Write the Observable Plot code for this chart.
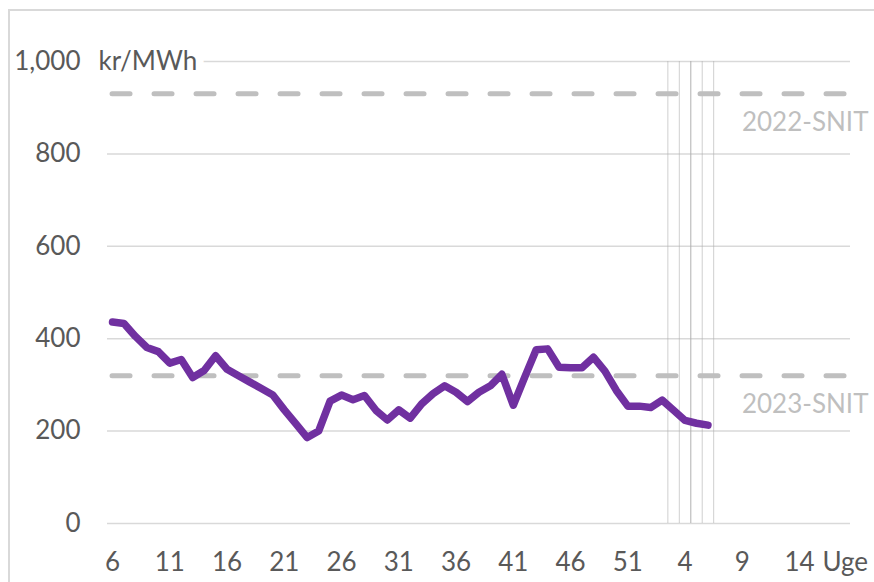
<!DOCTYPE html>
<html><head><meta charset="utf-8">
<script src="https://cdn.jsdelivr.net/npm/d3@7"></script>
<script src="https://cdn.jsdelivr.net/npm/@observablehq/plot@0.6"></script>
<style>
html,body{margin:0;padding:0;background:#fff;}
#frame{position:absolute;left:8px;top:9px;width:866px;height:573px;border-left:2px solid #d9d9d9;border-top:2px solid #d9d9d9;}
#chart{position:absolute;left:0;top:0;}
</style></head><body>
<div id="frame"></div><div id="chart"></div>
<script>
// Weeks: 2023 week 6 .. 2024 week 6
const weeks = [6,7,8,9,10,11,12,13,14,15,16,17,18,19,20,21,22,23,24,25,26,27,28,29,30,31,32,33,34,35,36,37,38,39,40,41,42,43,44,45,46,47,48,49,50,51,52,1,2,3,4,5,6];
const prices = [436,433,405,381,372,347,355,316,331,363,334,320,306,292,278,246,216,186,200,265,278,268,277,245,224,246,228,259,281,298,284,264,284,298,323,256,317,376,378,338,337,337,360,330,288,254,254,251,267,245,223,217,213];
const tickWeeks = [6,11,16,21,26,31,36,41,46,51,4,9,14];
const tickPos = tickWeeks.map((w,k)=>k*5);
const yTicks = [0,200,400,600,800,1000];
const snitLabels = ["2022-SNIT","2023-SNIT"];
const snitValues = [930,320];
const markerPos = [48.5,49.5,50.5,50.5,51.5,52.5];

const data = prices.map((p,i)=>({i, week: weeks[i], price: p}));
const snit = snitLabels.map((label,k)=>({label, value: snitValues[k]}));
const font = "Lato, 'Open Sans', sans-serif";

const chart = Plot.plot({
  width: 874, height: 582,
  marginLeft: 107, marginRight: 24, marginTop: 61, marginBottom: 59,
  x: {domain: [-0.44, 64.45]},
  y: {domain: [0, 1000]},
  style: {fontFamily: font, fontSize: "26px", color: "#595959", background: "transparent", overflow: "visible"},
  marks: [
    Plot.gridY(yTicks, {stroke: "#d9d9d9", strokeOpacity: 1, strokeWidth: 1.5}),
    Plot.text(["kr/MWh"], {frameAnchor: "top-left", dx: -9, textAnchor: "start", lineAnchor: "middle",
      fill: "#595959", stroke: "white", strokeWidth: 16, paintOrder: "stroke", fontSize: 26}),
    Plot.ruleX(markerPos, {y1: 0, y2: 1000, stroke: "#b0b0b0", strokeOpacity: 0.6, strokeWidth: 1}),
    Plot.ruleY(snit, {y: "value", x1: 0, x2: 64.2, stroke: "#bfbfbf", strokeWidth: 5,
      strokeDasharray: "18,24", strokeLinecap: "round"}),
    Plot.text(snit, {y: "value", text: "label", frameAnchor: "right", textAnchor: "end",
      dx: 18, dy: 29, fill: "#bfbfbf", fontSize: 26}),
    Plot.line(data, {x: "i", y: "price", stroke: "#7030a0", strokeWidth: 7.5,
      strokeLinejoin: "round", strokeLinecap: "round"}),
    Plot.axisY({ticks: yTicks, tickSize: 0, tickPadding: 27, tickFormat: d3.format(","),
      label: null, fill: "#595959", fontSize: 26}),
    Plot.axisX({ticks: tickPos, tickSize: 0, tickPadding: 29, label: null,
      tickFormat: d => tickWeeks[tickPos.indexOf(d)], fill: "#595959", fontSize: 26}),
    Plot.text(["Uge"], {frameAnchor: "bottom-right", dx: -28, dy: 29, textAnchor: "start",
      lineAnchor: "top", fill: "#595959", fontSize: 26})
  ]
});
document.getElementById("chart").appendChild(chart);
</script>
</body></html>
